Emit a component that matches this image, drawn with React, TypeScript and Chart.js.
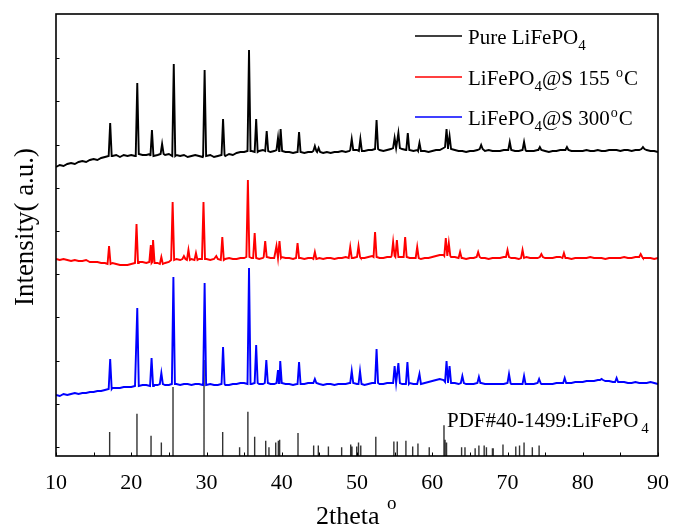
import React, { useEffect, useRef } from 'react';
import { Chart, registerables } from 'chart.js';

Chart.register(...registerables);

// ---------- data (2theta in degrees, intensity in arbitrary units, already offset as drawn) ----------
const X_MIN = 10;
const X_MAX = 90;
const GRID_START = 10;   // baseline samples every 0.5 degree
const GRID_STEP = 0.5;

const seriesNames = ['Pure LiFePO_4', 'LiFePO_4@S 155 ^oC', 'LiFePO_4@S 300^oC'];
const seriesColors = ['#000000', '#ff0000', '#0000ff'];
const pdfName = 'PDF#40-1499:LiFePO_4';
const xTickLabels = [10, 20, 30, 40, 50, 60, 70, 80, 90];
const xMinorTicks = [15, 25, 35, 45, 55, 65, 75, 85];
const yTickValues = [9, 52.2, 95.4, 138.6, 181.8, 225, 268.2, 311.4, 354.6, 397.8];

const blackBase = [
  289, 291, 290, 292, 293, 292, 294, 295, 294, 296,
  297, 296, 298, 299, 300, 300, 301, 299, 301, 300,
  301, 300, 302, 301, 301, 302, 300, 301, 302, 301,
  302, 300, 301, 300, 301, 299, 300, 301, 300, 299,
  300, 301, 299, 300, 301, 300, 302, 301, 303, 304,
  304, 305, 305, 304, 305, 306, 305, 304, 305, 306,
  305, 304, 304, 303, 304, 304, 303, 304, 304, 305,
  304, 303, 304, 303, 304, 304, 305, 304, 305, 306,
  306, 305, 305, 306, 306, 307, 306, 305, 306, 307,
  308, 308, 307, 306, 306, 305, 306, 305, 305, 304,
  305, 306, 306, 308, 309, 307, 306, 305, 305, 304,
  305, 305, 306, 307, 305, 306, 305, 305, 305, 306,
  306, 306, 305, 305, 306, 305, 305, 305, 306, 306,
  305, 304, 305, 305, 306, 306, 306, 305, 305, 305,
  305, 306, 305, 305, 306, 305, 305, 306, 306, 306,
  305, 306, 306, 305, 306, 306, 307, 306, 305, 305,
  304,
];
const blackPeaks = [
  [17.2, 333], [20.8, 373], [22.75, 326], [24.1, 312], [25.65, 392], [29.75, 386],
  [32.2, 337], [35.65, 406], [36.6, 337], [38.0, 325], [39.5, 318], [39.85, 327],
  [42.3, 324], [44.4, 310], [44.9, 308], [49.3, 317], [50.45, 317], [52.6, 336],
  [55.0, 318], [55.5, 323], [56.75, 323], [58.3, 313], [61.9, 327], [62.3, 320],
  [66.5, 311], [70.3, 314], [72.2, 314], [74.3, 309], [77.9, 309], [88.0, 309],
];

const redBase = [
  197, 196, 197, 196, 195, 196, 195, 195, 196, 194,
  194, 194, 193, 193, 192, 193, 192, 191, 191, 191,
  192, 193, 194, 194, 193, 194, 193, 193, 192, 193,
  194, 196, 197, 196, 197, 196, 197, 196, 197, 197,
  197, 196, 197, 197, 196, 197, 198, 197, 197, 198,
  198, 199, 198, 198, 197, 198, 199, 198, 198, 198,
  199, 198, 198, 197, 198, 198, 197, 198, 198, 197,
  198, 197, 198, 198, 197, 198, 198, 199, 198, 198,
  199, 198, 198, 199, 200, 199, 198, 198, 199, 199,
  200, 199, 199, 199, 198, 198, 198, 197, 198, 198,
  199, 200, 201, 201, 200, 199, 199, 198, 198, 197,
  198, 198, 199, 198, 198, 197, 198, 198, 198, 199,
  199, 198, 198, 197, 198, 199, 198, 198, 198, 199,
  198, 198, 198, 199, 199, 198, 198, 197, 198, 198,
  198, 198, 199, 198, 198, 198, 197, 198, 198, 198,
  198, 199, 198, 198, 199, 199, 198, 198, 198, 197,
  198,
];
const redPeaks = [
  [17.05, 210], [20.7, 232], [22.6, 211], [22.9, 216], [24.0, 199], [25.5, 254],
  [27.0, 200], [27.6, 206], [28.6, 203], [29.6, 254], [31.3, 200], [32.1, 219],
  [35.5, 276], [36.4, 223], [37.8, 215], [39.3, 210], [39.7, 215], [42.1, 213],
  [44.4, 204], [49.1, 209], [50.2, 210], [52.4, 224], [54.8, 214], [55.3, 216],
  [56.4, 219], [58.0, 209], [61.8, 218], [62.2, 213], [63.7, 204], [66.1, 204],
  [70.0, 206], [72.0, 206], [74.5, 202], [77.5, 203], [87.7, 202],
];

const blueBase = [
  61, 60, 62, 61, 62, 63, 62, 63, 63, 64,
  64, 65, 65, 66, 67, 68, 68, 68, 69, 69,
  69, 70, 70, 71, 71, 70, 71, 71, 72, 71,
  71, 72, 72, 71, 72, 72, 71, 72, 72, 71,
  71, 72, 71, 71, 72, 71, 71, 72, 72, 73,
  73, 72, 72, 73, 72, 72, 73, 72, 72, 73,
  73, 72, 72, 71, 72, 72, 72, 73, 73, 73,
  72, 71, 72, 72, 71, 72, 72, 72, 73, 73,
  72, 72, 71, 72, 73, 73, 72, 72, 73, 73,
  73, 73, 72, 72, 73, 72, 72, 72, 73, 74,
  75, 76, 77, 76, 74, 73, 73, 72, 73, 72,
  72, 72, 73, 73, 72, 72, 72, 72, 72, 72,
  73, 72, 72, 72, 72, 72, 72, 72, 73, 72,
  72, 72, 72, 73, 73, 73, 73, 73, 74, 74,
  74, 75, 75, 75, 76, 76, 75, 75, 74, 74,
  74, 74, 73, 73, 74, 73, 73, 73, 74, 73,
  72,
];
const bluePeaks = [
  [17.2, 97], [20.8, 148], [22.7, 98], [24.0, 83], [25.6, 179], [29.75, 173],
  [32.2, 109], [35.65, 188], [36.6, 111], [37.95, 96], [39.5, 86], [39.8, 95],
  [42.3, 94], [44.4, 77], [49.3, 85], [50.4, 85], [52.6, 107], [55.0, 90],
  [55.5, 93], [56.7, 94], [58.3, 82], [61.9, 95], [62.3, 90], [64.0, 80],
  [66.2, 79], [70.2, 82], [72.2, 80], [74.2, 77], [77.6, 78], [82.5, 77], [84.5, 78],
];

// Reference pattern PDF#40-1499: [2theta, relative intensity %]
const pdfPositions = [
  17.13, 20.76, 22.63, 24.0, 25.55, 29.67, 32.15, 34.4, 35.5, 36.4, 37.87, 38.3,
  39.2, 39.55, 39.72, 42.16, 44.24, 44.86, 46.2, 47.96, 49.16, 49.33, 49.96, 50.2,
  50.5, 52.5, 54.9, 55.35, 56.5, 57.4, 58.1, 59.6, 61.56, 61.7, 61.9, 63.9, 64.35,
  65.7, 66.2, 66.9, 67.2, 68.0, 68.1, 69.4, 71.1, 71.6, 72.2, 73.3, 74.2,
];
const pdfIntensities = [
  25, 44, 21, 14, 72, 100, 25, 9, 46, 20, 16, 9,
  14, 16, 17, 24, 11, 11, 10, 9, 12, 10, 10, 14,
  11, 20, 15, 15, 16, 10, 13, 9, 32, 17, 14, 9, 9,
  8, 11, 11, 9, 8, 8, 12, 10, 11, 14, 9, 11,
];

// ---------- helpers ----------
const PEAK_HALF = 0.2;
const PDF_SCALE = 0.96; // axis units per % of the stick pattern
const SERIF = '"Liberation Serif", "Times New Roman", serif';

function buildSeries(base: number[], peaks: number[][]) {
  const pts: { x: number; y: number }[] = [];
  base.forEach((v, i) => {
    const x = GRID_START + i * GRID_STEP;
    if (peaks.some(([p]) => Math.abs(x - p) < PEAK_HALF)) return;
    pts.push({ x, y: v });
  });
  peaks.forEach(([p, top]) => {
    const b = base[Math.round((p - GRID_START) / GRID_STEP)];
    pts.push({ x: p - PEAK_HALF, y: b }, { x: p, y: top }, { x: p + PEAK_HALF, y: b });
  });
  pts.sort((a, b) => a.x - b.x);
  return pts;
}

function buildSticks() {
  const pts: { x: number; y: number | null }[] = [];
  pdfPositions.forEach((p, i) => {
    pts.push({ x: p, y: 0 }, { x: p, y: pdfIntensities[i] * PDF_SCALE }, { x: p, y: null });
  });
  return pts;
}

function drawRich(ctx: CanvasRenderingContext2D, str: string, x: number, y: number, size: number, supSize?: number, supDy?: number, subGap = 0) {
  let cx = x;
  let run = '';
  const flush = () => {
    if (!run) return;
    ctx.font = `${size}px ${SERIF}`;
    ctx.fillText(run, cx, y);
    cx += ctx.measureText(run).width;
    run = '';
  };
  for (let i = 0; i < str.length; i++) {
    const ch = str[i];
    if (ch === '_' || ch === '^') {
      flush();
      const c = str[++i];
      if (ch === '_') {
        const s = Math.round(size * 0.72);
        ctx.font = `${s}px ${SERIF}`;
        ctx.fillText(c, cx + subGap, y + size * 0.28);
        cx += ctx.measureText(c).width + subGap;
      } else {
        const s = supSize ?? Math.round(size * 0.66);
        ctx.font = `${s}px ${SERIF}`;
        ctx.fillText(c, cx + 1, y + (supDy ?? -size * 0.36));
        cx += ctx.measureText(c).width + 2;
      }
    } else {
      run += ch;
    }
  }
  flush();
}

const decorPlugin = {
  id: 'decor',
  afterDatasetsDraw(chart: any) {
    const { ctx, chartArea: a, scales } = chart;
    const xs = scales.x;
    const ys = scales.y;
    ctx.save();
    ctx.strokeStyle = '#000';
    ctx.fillStyle = '#000';
    // frame
    ctx.lineWidth = 1.6;
    ctx.strokeRect(a.left, a.top, a.right - a.left, a.bottom - a.top);
    // x ticks (inward) and labels
    ctx.lineWidth = 1;
    [...xTickLabels, ...xMinorTicks].forEach((v) => {
      const px = Math.round(xs.getPixelForValue(v)) + 0.5;
      ctx.beginPath();
      ctx.moveTo(px, a.bottom);
      ctx.lineTo(px, a.bottom - 3.5);
      ctx.stroke();
    });
    ctx.font = `22px ${SERIF}`;
    ctx.textAlign = 'center';
    ctx.textBaseline = 'alphabetic';
    xTickLabels.forEach((v) => {
      ctx.fillText(String(v), xs.getPixelForValue(v), a.bottom + 33);
    });
    // y ticks (inward, left)
    yTickValues.forEach((v) => {
      const py = Math.round(ys.getPixelForValue(v)) + 0.5;
      ctx.beginPath();
      ctx.moveTo(a.left, py);
      ctx.lineTo(a.left + 3.5, py);
      ctx.stroke();
    });
    // legend
    ctx.textAlign = 'left';
    const rows = [36, 77, 117];
    seriesNames.forEach((name, i) => {
      ctx.strokeStyle = seriesColors[i];
      ctx.lineWidth = 1.5;
      ctx.beginPath();
      ctx.moveTo(415, rows[i]);
      ctx.lineTo(462, rows[i]);
      ctx.stroke();
      ctx.fillStyle = '#000';
      drawRich(ctx, name, 468, rows[i] + 8, 21);
    });
    // PDF label
    drawRich(ctx, pdfName, 447, 427, 21, undefined, undefined, 3);
    // x title
    drawRich(ctx, '2theta ^o', 316, 524, 26, 19, -15);
    // y title
    ctx.save();
    ctx.translate(26, 227);
    ctx.rotate(-Math.PI / 2);
    ctx.textAlign = 'center';
    ctx.textBaseline = 'middle';
    ctx.font = `27px ${SERIF}`;
    ctx.fillText('Intensity( a.u.)', 0, 0);
    ctx.restore();
    ctx.restore();
  },
};

export default function App() {
  const ref = useRef<HTMLCanvasElement>(null);
  useEffect(() => {
    if (!ref.current) return;
    const clean = (s: string) => s.replace(/_/g, '').replace('^o', '°');
    const chart = new Chart(ref.current, {
      type: 'line',
      data: {
        datasets: [
          { label: clean(seriesNames[2]), data: buildSeries(blueBase, bluePeaks), borderColor: seriesColors[2], borderWidth: 1.9 },
          { label: clean(seriesNames[1]), data: buildSeries(redBase, redPeaks), borderColor: seriesColors[1], borderWidth: 1.9 },
          { label: clean(seriesNames[0]), data: buildSeries(blackBase, blackPeaks), borderColor: seriesColors[0], borderWidth: 1.9 },
          { label: clean(pdfName), data: buildSticks() as any, borderColor: '#333', borderWidth: 1.4, spanGaps: false },
        ],
      },
      options: {
        animation: false,
        responsive: true,
        maintainAspectRatio: false,
        events: [],
        layout: { padding: { left: 56, top: 14, right: 16, bottom: 74 } },
        elements: { point: { radius: 0 }, line: { tension: 0 } },
        plugins: { legend: { display: false }, tooltip: { enabled: false } },
        scales: {
          x: { type: 'linear', display: false, min: X_MIN, max: X_MAX },
          y: { type: 'linear', display: false, min: 0, max: 442 },
        },
      },
      plugins: [decorPlugin],
    });
    return () => chart.destroy();
  }, []);
  return (
    <div style={{ position: 'fixed', left: 0, top: 0, width: 674, height: 530, background: '#fff' }}>
      <canvas ref={ref} />
    </div>
  );
}
